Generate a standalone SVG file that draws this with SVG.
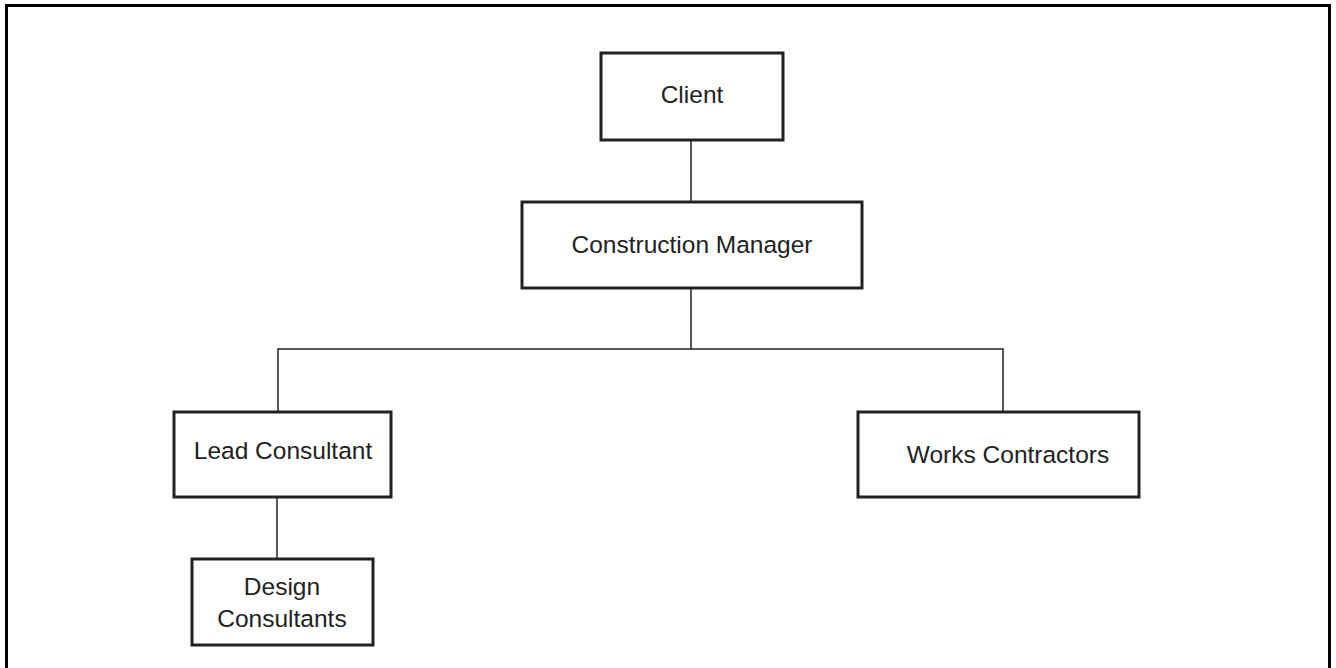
<svg xmlns="http://www.w3.org/2000/svg" width="1336" height="668" viewBox="0 0 1336 668">
  <style>
    .box { fill: #ffffff; stroke: #222222; stroke-width: 3; }
    .label { font-family: "Liberation Sans", Arial, sans-serif; font-size: 24.5px; fill: #222222; text-anchor: middle; }
    .link { fill: none; stroke: #222222; stroke-width: 1.5; }
  </style>
  <rect width="1336" height="668" fill="#ffffff"/>
  <!-- outer frame, open at the bottom edge -->
  <path d="M6.5,668 V5.5 H1329.5 V668" fill="none" stroke="#000000" stroke-width="3"/>

  <g id="connectors">
    <line class="link" x1="691" y1="140" x2="691" y2="202"/>
    <line class="link" x1="691" y1="288" x2="691" y2="349"/>
    <path class="link" d="M278,412 V349 H1003 V412"/>
    <line class="link" x1="277" y1="497" x2="277" y2="559"/>
  </g>

  <g id="client">
    <rect class="box" x="601" y="53" width="182" height="87"/>
    <text class="label" x="692" y="103">Client</text>
  </g>
  <g id="construction-manager">
    <rect class="box" x="522" y="202" width="340" height="86"/>
    <text class="label" x="692" y="253">Construction Manager</text>
  </g>
  <g id="lead-consultant">
    <rect class="box" x="174" y="412" width="217" height="85"/>
    <text class="label" x="283" y="459">Lead Consultant</text>
  </g>
  <g id="works-contractors">
    <rect class="box" x="858" y="412" width="281" height="85"/>
    <text class="label" x="1008" y="463">Works Contractors</text>
  </g>
  <g id="design-consultants">
    <rect class="box" x="192" y="559" width="181" height="86"/>
    <text class="label" x="282" y="595">Design</text>
    <text class="label" x="282" y="627">Consultants</text>
  </g>
</svg>
